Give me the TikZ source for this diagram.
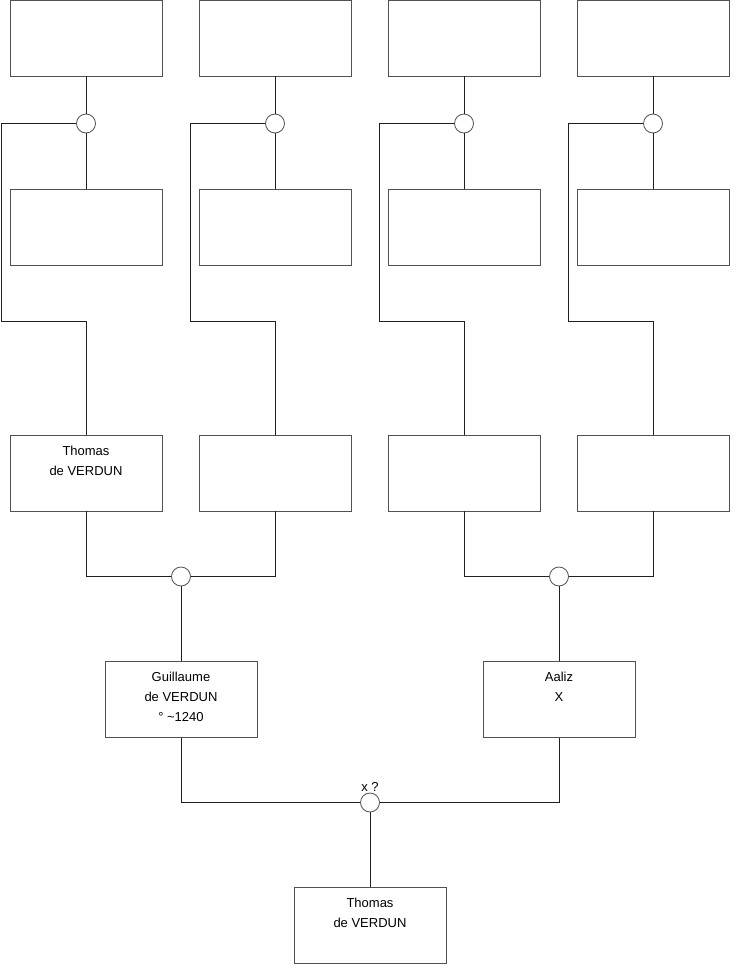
\documentclass[tikz,border=0pt]{standalone}
\usepackage{fontspec}
\setmainfont{Liberation Sans}
\colorlet{colbox}{black!68}
\colorlet{colline}{black!88}
\newcommand{\ptext}[1]{\parbox[c][76pt][t]{152pt}{\centering\rule{0pt}{20pt}#1}}
\tikzset{
  person/.style={rectangle, draw=colbox, line width=0.8pt, fill=white,
    minimum width=152pt, minimum height=76pt, inner sep=0,
    font=\fontsize{13}{20}\selectfont},
  union/.style={circle, draw=colbox, line width=0.8pt, fill=white,
    minimum size=19pt, inner sep=0},
  link/.style={colline, line width=0.8pt},
}

\begin{document}
\begin{tikzpicture}[x=1pt, y=-1pt]
  \useasboundingbox (0,0) rectangle (740,975);

  % ---- grandparents: one \foreach per row
  \foreach \i/\x in {1/86, 2/275, 3/464, 4/653} {
    \node[person] (a\i) at (\x, 38)  {\ptext{}};
    \node[person] (b\i) at (\x, 227) {\ptext{}};
    \node[union]  (m\i) at (\x, 123.5) {};
    \coordinate (k\i) at ({\x - 85}, 321);
  }

  % ---- parents row
  \node[person] (c1) at (86, 473)  {\ptext{Thomas\\de VERDUN}};
  \node[person] (c2) at (275, 473) {\ptext{}};
  \node[person] (c3) at (464, 473) {\ptext{}};
  \node[person] (c4) at (653, 473) {\ptext{}};
  \node[union]  (n1) at (181, 576.5) {};
  \node[union]  (n2) at (559, 576.5) {};

  \node[person] (d1) at (181, 699.5) {\ptext{Guillaume\\de VERDUN\\° \textasciitilde1240}};
  \node[person] (d2) at (559, 699.5) {\ptext{Aaliz\\X}};
  \node[union, label={[font=\fontsize{13}{20}\selectfont, inner sep=1pt]above:x ?}]
    (o) at (370, 802.5) {};

  \node[person] (e) at (370, 925.5) {\ptext{Thomas\\de VERDUN}};

  % ---- couples to their child
  \foreach \i in {1,...,4} {
    \draw[link] (a\i) -- (m\i);
    \draw[link] (m\i) -- (b\i);
    \draw[link] (m\i.west) -| (k\i) -| (c\i.north);
  }
  \draw[link] (c1.south) |- (n1.west);
  \draw[link] (c2.south) |- (n1.east);
  \draw[link] (c3.south) |- (n2.west);
  \draw[link] (c4.south) |- (n2.east);
  \draw[link] (n1) -- (d1);
  \draw[link] (n2) -- (d2);
  \draw[link] (d1.south) |- (o.west);
  \draw[link] (d2.south) |- (o.east);
  \draw[link] (o) -- (e);

\end{tikzpicture}
\end{document}
